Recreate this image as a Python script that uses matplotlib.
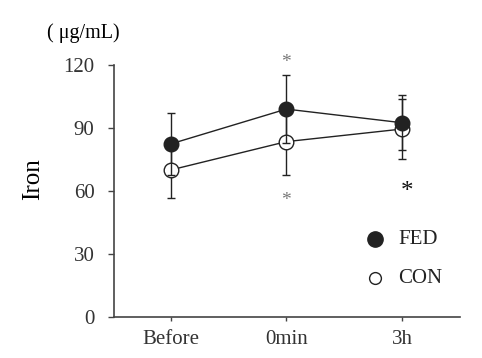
import matplotlib
matplotlib.use('Agg')
from matplotlib import pyplot as plt
import numpy as np

plt.rcParams['font.family'] = ['Liberation Serif', 'DejaVu Serif']

# data
groups = ['Before', '0min', '3h']
fed = [82.4, 99.0, 92.5]
fed_sd = [14.6, 16.0, 13.2]
con = [70.0, 83.5, 89.5]
con_sd = [13.3, 16.0, 14.5]
yticks = [0, 30, 60, 90, 120]

x = np.arange(len(groups))
ink = '#222222'

fig = plt.figure(figsize=(4.82, 3.58), dpi=100)
ax = fig.add_axes([0.2365, 0.1145, 0.7175, 0.704])

ax.errorbar(x, con, yerr=con_sd, fmt='-o', color=ink, mfc='white', mec=ink,
            ms=10.5, mew=1.0, lw=1.0, elinewidth=1.0, capsize=3, zorder=2)
ax.errorbar(x, fed, yerr=fed_sd, fmt='-o', color=ink, mfc=ink, mec=ink,
            ms=10.5, mew=1.0, lw=1.0, elinewidth=1.0, capsize=3, zorder=3)

# significance marks
ax.text(1, 121.0, '*', color='#777777', fontsize=14, ha='center', va='center')
ax.text(1, 55.5, '*', color='#777777', fontsize=14, ha='center', va='center')
ax.text(2.04, 59.5, '*', color='#111111', fontsize=18, ha='center', va='center')

# legend drawn by hand
ax.plot([1.77], [37.0], 'o', color=ink, ms=11, clip_on=False)
ax.text(1.97, 37.0, 'FED', fontsize=15, va='center', color=ink)
ax.plot([1.77], [18.5], 'o', color=ink, mfc='white', ms=8.5, mew=1.0, clip_on=False)
ax.text(1.97, 18.5, 'CON', fontsize=15, va='center', color=ink)

ax.set_xlim(-0.49, 2.5)
ax.set_ylim(0, 120)
ax.set_xticks(x)
ax.set_xticklabels(groups, fontsize=15, color='#333333')
ax.set_yticks(yticks)
ax.set_yticklabels([str(t) for t in yticks], fontsize=15, color='#333333')
ax.tick_params(direction='out', length=4, width=1, color='#444444', pad=10)
ax.tick_params(axis='x', length=3, pad=6)
for s in ['top', 'right']:
    ax.spines[s].set_visible(False)
for s in ['left', 'bottom']:
    ax.spines[s].set_color('#444444')
    ax.spines[s].set_linewidth(1.2)

fig.text(0.068, 0.501, 'Iron', rotation=90, fontsize=18, ha='center', va='center')
fig.text(0.097, 0.907, '( \u03bcg/mL)', fontsize=14.5, ha='left', va='center')

fig.savefig('out.png', dpi=100)
